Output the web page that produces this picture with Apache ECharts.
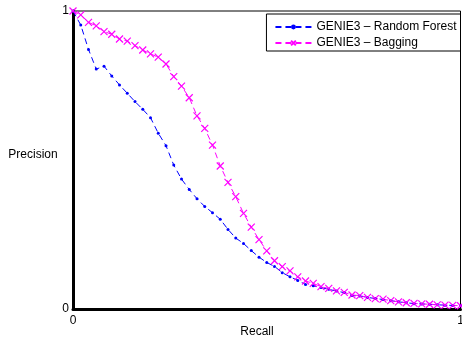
<!DOCTYPE html>
<html>
<head>
<meta charset="utf-8">
<script src="https://cdn.jsdelivr.net/npm/echarts@6/dist/echarts.min.js"></script>
<style>html,body{margin:0;padding:0;background:#fff}#c{width:462px;height:339px}</style>
</head>
<body>
<div id="c"></div>
<script>
var recall = [0,0.02,0.04,0.06,0.08,0.10,0.12,0.14,0.16,0.18,0.20,0.22,0.24,0.26,0.28,0.30,0.32,0.34,0.36,0.38,0.40,0.42,0.44,0.46,0.48,0.50,0.52,0.54,0.56,0.58,0.60,0.62,0.64,0.66,0.68,0.70,0.72,0.74,0.76,0.78,0.80,0.82,0.84,0.86,0.88,0.90,0.92,0.94,0.96,0.98,1.0];
var precisionRF = [1.0,0.953,0.871,0.805,0.815,0.782,0.752,0.724,0.696,0.670,0.642,0.590,0.548,0.483,0.436,0.401,0.370,0.344,0.323,0.301,0.267,0.238,0.220,0.196,0.174,0.156,0.143,0.122,0.108,0.096,0.082,0.078,0.072,0.066,0.060,0.055,0.045,0.044,0.039,0.035,0.032,0.028,0.024,0.021,0.018,0.017,0.016,0.014,0.013,0.012,0.011];
var precisionBag = [1.0,0.987,0.962,0.950,0.931,0.922,0.906,0.899,0.884,0.869,0.856,0.845,0.822,0.780,0.748,0.709,0.648,0.606,0.550,0.480,0.425,0.377,0.321,0.275,0.233,0.195,0.162,0.142,0.128,0.108,0.094,0.086,0.075,0.069,0.061,0.056,0.047,0.045,0.039,0.035,0.033,0.028,0.024,0.021,0.019,0.017,0.016,0.014,0.013,0.012,0.011];
var seriesNames = ['GENIE3 \u2013 Random Forest','GENIE3 \u2013 Bagging'];
var xTicks = [0,1];
var yTicks = [0,1];
var xTitle = 'Recall';
var yTitle = 'Precision';

function pairs(xs, ys){ return xs.map(function(x,i){ return [x, ys[i]]; }); }

var font = 'Liberation Sans, Arial, Helvetica, sans-serif';
var chart = echarts.init(document.getElementById('c'), null, {renderer:'canvas'});
chart.setOption({
  animation:false,
  textStyle:{fontFamily:font},
  grid:{left:73, top:11, right:1.5, bottom:30, show:true, borderColor:'#000', borderWidth:1, containLabel:false, outerBoundsMode:'none'},
  legend:{
    right:1.5, top:14, orient:'vertical', align:'left',
    borderColor:'#000', borderWidth:1, padding:[7,4,2,8],
    itemWidth:36, itemHeight:6, itemGap:4,
    textStyle:{fontSize:12, color:'#000', fontFamily:font},
    data:seriesNames
  },
  graphic:[
    {type:'text', style:{text:xTitle, x:257, y:332, align:'center', verticalAlign:'middle', textAlign:'center', textVerticalAlign:'middle', fontSize:12, fontFamily:font, fill:'#000'}},
    {type:'text', style:{text:yTitle, x:33, y:155, align:'center', verticalAlign:'middle', textAlign:'center', textVerticalAlign:'middle', fontSize:12, fontFamily:font, fill:'#000'}}
  ],
  xAxis:{
    type:'value', min:0, max:1, interval:1,
    axisLine:{show:true, onZero:false, lineStyle:{color:'#000', width:3}},
    axisTick:{show:false},
    axisLabel:{fontSize:12, color:'#000', margin:6, formatter:function(v){return xTicks.indexOf(v)>=0? String(v):'';}},
    splitLine:{show:false}
  },
  yAxis:{
    type:'value', min:0, max:1, interval:1,
    axisLine:{show:true, onZero:false, lineStyle:{color:'#000', width:3}},
    axisTick:{show:false},
    axisLabel:{fontSize:12, color:'#000', margin:4, formatter:function(v){return yTicks.indexOf(v)>=0? String(v):'';}},
    splitLine:{show:false}
  },
  series:[
    {
      name:seriesNames[0], type:'line', data:pairs(recall, precisionRF),
      symbol:'circle', symbolSize:3, showSymbol:true,
      lineStyle:{color:'#0000ff', width:1, type:[6,4]},
      itemStyle:{color:'#0000ff'}
    },
    {
      name:seriesNames[1], type:'line', data:pairs(recall, precisionBag),
      symbol:'path://M0,0L10,10M10,0L0,10', symbolSize:7, showSymbol:true,
      lineStyle:{color:'#ff00ff', width:1, type:[6,4]},
      itemStyle:{color:'#ff00ff', borderColor:'#ff00ff', borderWidth:1.2}
    }
  ]
});
</script>
</body>
</html>
